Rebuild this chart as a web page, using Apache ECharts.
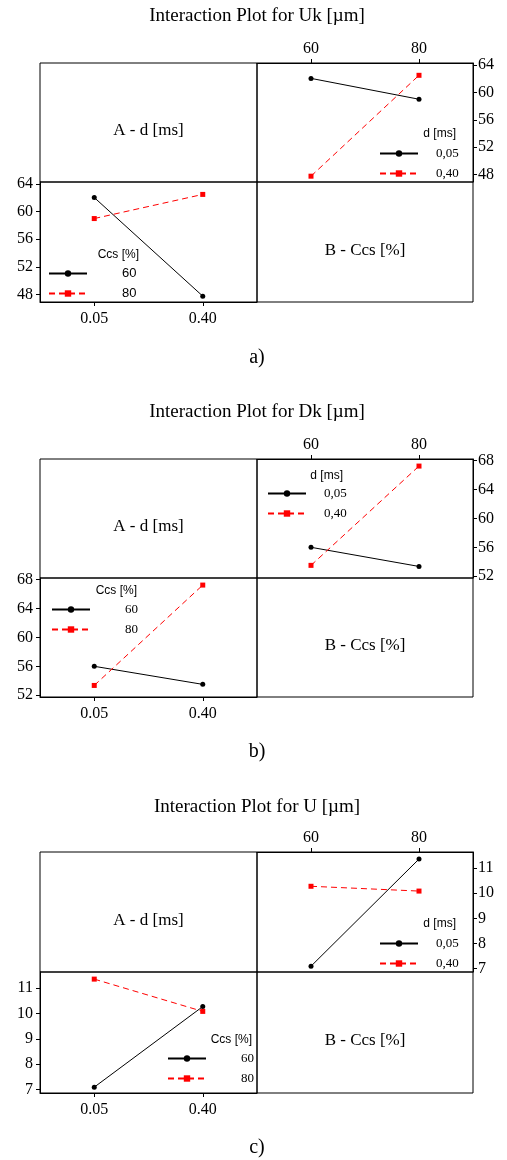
<!DOCTYPE html>
<html>
<head>
<meta charset="utf-8">
<script src="https://cdn.jsdelivr.net/npm/echarts@6/dist/echarts.min.js"></script>
<style>
  html, body { margin: 0; padding: 0; background: #fff; }
  #chart { width: 507px; height: 1160px; }
</style>
</head>
<body>
<div id="chart"></div>
<script>
// Factor levels
const dLevels = ['0.05', '0.40'];          // A - d [ms], axis labels
const dNames = ['0,05', '0,40'];           // A - d [ms], legend labels
const ccsLevels = ['60', '80'];            // B - Ccs [%]
const responseNames = ['Uk', 'Dk', 'U'];
const subLabels = ['a)', 'b)', 'c)'];

// Cell means: rows = d level (0.05, 0.40), columns = Ccs level (60, 80)
const ukMeans = [[62.05, 59.0], [47.75, 62.5]];
const dkMeans = [[56.0, 53.35], [53.5, 67.25]];
const uMeans = [[7.1, 11.35], [10.27, 10.08]];

// Response axis ticks and extents
const ukTicks = [48, 52, 56, 60, 64];
const dkTicks = [52, 56, 60, 64, 68];
const uTicks = [7, 8, 9, 10, 11];
const ukRange = [46.9, 64.3];
const dkRange = [51.75, 68.23];
const uRange = [6.87, 11.63];

const meansList = [ukMeans, dkMeans, uMeans];
const ticksList = [ukTicks, dkTicks, uTicks];
const rangeList = [ukRange, dkRange, uRange];

const SERIF = '"Liberation Serif", "Times New Roman", serif';
const SANS = '"Liberation Sans", Arial, sans-serif';
const RED = '#ff0000';

// Page layout of the three interaction plots
const LEFT = 40, MIDX = 257, RIGHT = 473;
const frames = [
  { titleY: 16, top: 63, mid: 182, bottom: 302, subY: 358,
    tr: { x: 379, y: 153, gap: 13, title: 456, titleY: 134, serif: true },
    bl: { x: 48, y: 273, gap: 30, title: 139, titleY: 255, serif: false } },
  { titleY: 412, top: 459, mid: 578, bottom: 697, subY: 752,
    tr: { x: 267, y: 493, gap: 13, title: 343, titleY: 476, serif: true },
    bl: { x: 51, y: 609, gap: 30, title: 137, titleY: 591, serif: true } },
  { titleY: 807, top: 852, mid: 972, bottom: 1093, subY: 1148,
    tr: { x: 379, y: 943, gap: 13, title: 456, titleY: 924, serif: true },
    bl: { x: 167, y: 1058, gap: 30, title: 252, titleY: 1040, serif: true } }
];

const grid = [], xAxis = [], yAxis = [], series = [], legend = [], graphic = [];

const blackLine = (name, xi, yi, data) => ({
  type: 'line', name, xAxisIndex: xi, yAxisIndex: yi, data,
  symbol: 'circle', symbolSize: 5, silent: true,
  lineStyle: { color: '#000', width: 1 },
  itemStyle: { color: '#000' }
});
const redLine = (name, xi, yi, data) => ({
  type: 'line', name, xAxisIndex: xi, yAxisIndex: yi, data,
  symbol: 'rect', symbolSize: 5, silent: true,
  lineStyle: { color: RED, width: 1, type: [6, 4] },
  itemStyle: { color: RED }
});

const valueAxis = (gridIndex, position, range, ticks, margin) => ({
  type: 'value', gridIndex, position, min: range[0], max: range[1],
  splitLine: { show: false },
  axisLine: { show: true, lineStyle: { color: '#000', width: 1 } },
  axisTick: { show: true, length: 4, customValues: ticks, lineStyle: { color: '#000' } },
  axisLabel: { customValues: ticks, margin, color: '#000', fontFamily: SERIF, fontSize: 16 }
});
const catAxis = (gridIndex, position, cats, margin) => ({
  type: 'category', gridIndex, position, data: cats, boundaryGap: true,
  axisLine: { show: true, lineStyle: { color: '#000', width: 1 } },
  axisTick: { show: true, length: 4, alignWithLabel: true, lineStyle: { color: '#000' } },
  axisLabel: { margin, color: '#000', fontFamily: SERIF, fontSize: 16 }
});

const frameGrid = (l, t, r, b) => ({
  left: l, top: t, width: r - l, height: b - t, show: true,
  borderColor: '#000', borderWidth: 1, backgroundColor: 'transparent'
});

const legendBox = (cfg, names) => ({
  data: names, orient: 'vertical', left: cfg.x, top: cfg.y - 6,
  padding: 0, itemWidth: 38, itemHeight: 8, itemGap: 7, selectedMode: false,
  textStyle: { fontFamily: cfg.serif ? SERIF : SANS, fontSize: 13, lineHeight: 13,
               color: '#000', padding: [0, 0, 0, cfg.gap] }
});

const text = (x, y, str, font, align) => ({
  type: 'text', x, y, silent: true,
  style: { text: str, font, fill: '#000', textAlign: align || 'center', textVerticalAlign: 'middle' }
});

frames.forEach((f, i) => {
  const means = meansList[i];
  const ticks = ticksList[i];
  const range = rangeList[i];

  // four quadrants: label, Ccs plot, d plot, label
  grid.push(frameGrid(LEFT, f.top, MIDX, f.mid));
  grid.push(frameGrid(MIDX, f.top, RIGHT, f.mid));
  grid.push(frameGrid(LEFT, f.mid, MIDX, f.bottom));
  grid.push(frameGrid(MIDX, f.mid, RIGHT, f.bottom));

  // upper right: response vs Ccs, one line per d level
  const xr = xAxis.length;
  xAxis.push(catAxis(4 * i + 1, 'top', ccsLevels, 6));
  yAxis.push(valueAxis(4 * i + 1, 'right', range, ticks, 5));
  series.push(blackLine(dNames[0], xr, xr, means[0]));
  series.push(redLine(dNames[1], xr, xr, means[1]));

  // lower left: response vs d, one line per Ccs level
  const xl = xAxis.length;
  xAxis.push(catAxis(4 * i + 2, 'bottom', dLevels, 9));
  yAxis.push(valueAxis(4 * i + 2, 'left', range, ticks, 7));
  series.push(blackLine(ccsLevels[0], xl, xl, means.map(r => r[0])));
  series.push(redLine(ccsLevels[1], xl, xl, means.map(r => r[1])));

  legend.push(legendBox(f.tr, dNames));
  legend.push(legendBox(f.bl, ccsLevels));

  graphic.push(text(257, f.titleY, 'Interaction Plot for ' + responseNames[i] + ' [\u00b5m]', '19px ' + SERIF));
  graphic.push(text((LEFT + MIDX) / 2, (f.top + f.mid) / 2 + 8.5, 'A - d [ms]', '17px ' + SERIF));
  graphic.push(text((MIDX + RIGHT) / 2, (f.mid + f.bottom) / 2 + 8.5, 'B - Ccs [%]', '17px ' + SERIF));
  graphic.push(text(f.tr.title, f.tr.titleY, 'd [ms]', '12px ' + SANS, 'right'));
  graphic.push(text(f.bl.title, f.bl.titleY, 'Ccs [%]', '12px ' + SANS, 'right'));
  graphic.push(text(257, f.subY, subLabels[i], '20px ' + SERIF));
});

const chart = echarts.init(document.getElementById('chart'), null, { renderer: 'canvas' });
chart.setOption({
  animation: false,
  backgroundColor: '#fff',
  grid, xAxis, yAxis, series, legend, graphic
});
</script>
</body>
</html>
